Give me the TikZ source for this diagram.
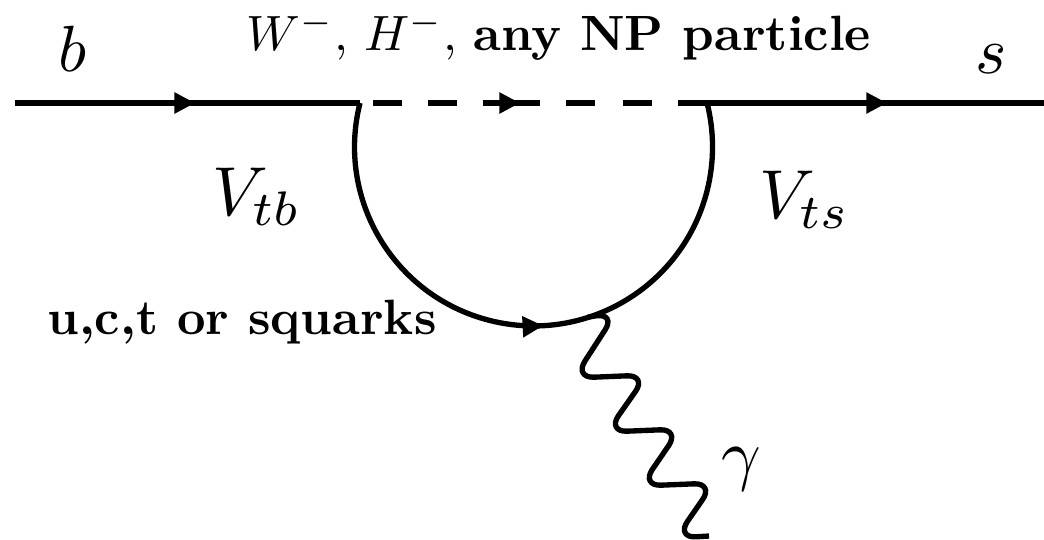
\documentclass[tikz,border=0pt]{standalone}
\usetikzlibrary{arrows.meta,decorations.markings}
\tikzset{
  prop/.style={line width=4.2pt,black},
  loopline/.style={line width=4pt,black},
  photon/.style={line width=4pt,black,rounded corners=15pt},
  lbl/.style={inner sep=0pt,anchor=center},
  tip/.style={postaction={decorate},decoration={markings,mark=at position #1 with {\arrow{Triangle[length=15.5pt,width=15pt]}}}}
}
\begin{document}
\begin{tikzpicture}[x=1pt,y=-1pt,scale=0.75]
\useasboundingbox (0,0) rectangle (1044,539);
\coordinate (in) at (15,103);
\coordinate (v1) at (360,103);
\coordinate (out) at (1044,103);
\coordinate (d0) at (373,103);
\coordinate (d1) at (678,103);
\coordinate (mid) at (483,103);
\coordinate (mide) at (540,103);
\coordinate (v3) at (588,317);
\coordinate (end) at (709,536);
\draw[prop,tip=0.522] (in) -- (v1);
\draw[prop,dash pattern=on 21.75pt off 19.5pt on 21.75pt off 19.5pt on 42.75pt off 19.5pt on 21.75pt off 21pt on 21.75pt off 19.5pt] (d0) -- (d1);
\draw[prop,tip=0.65] (mid) -- (mide);
\draw[prop,tip=0.571] (d1) -- (out);
\draw[loopline,tip=0.515] (v1) arc[start angle=194.2,end angle=-14.2,radius=179];
\draw[photon] (v3) -- (616,313) -- (574,378) -- (647,375) -- (607,432) -- (680,429) -- (641,486) -- (714,483) -- (676,538) -- (end);
\node[lbl,scale=4.9] (b) at (73,49) {$b$};
\node[lbl,scale=5] (s) at (991,59) {$s$};
\node[lbl,scale=3.72] (top) at (559,36) {$W^{-}$, $H^{-}$, \textbf{any NP particle}};
\node[lbl,scale=5.2] (vtb) at (257,197) {$V_{tb}$};
\node[lbl,scale=5.2] (vts) at (805,200) {$V_{ts}$};
\node[lbl,scale=3.72] (q) at (242,322) {\textbf{u,c,t or squarks}};
\node[lbl,scale=5.2] (g) at (741,469) {$\gamma$};
\end{tikzpicture}
\end{document}
